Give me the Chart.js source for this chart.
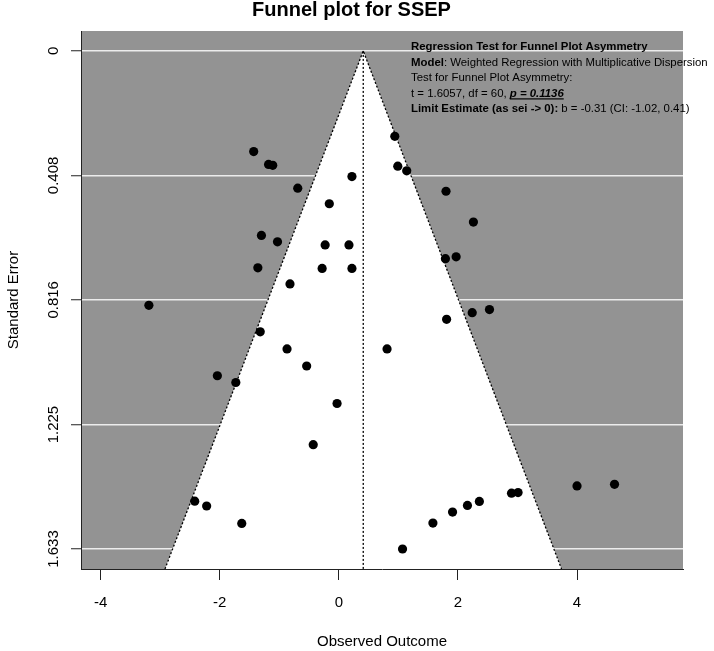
<!DOCTYPE html>
<html><head><meta charset="utf-8">
<script src="https://cdn.jsdelivr.net/npm/chart.js@4.4.1/dist/chart.umd.min.js"></script>
<style>html,body{margin:0;padding:0;background:#fff;}canvas{display:block;}</style>
</head><body>
<canvas id="c" width="714" height="651"></canvas>
<script>
// ---- data ----
const chartTitle = "Funnel plot for SSEP";
const xAxisTitle = "Observed Outcome";
const yAxisTitle = "Standard Error";
const xTickValues = [-4, -2, 0, 2, 4];
const yTickValues = [0, 0.408, 0.816, 1.225, 1.633];
const yTickLabels = ["0", "0.408", "0.816", "1.225", "1.633"];
const xRange = [-4.33, 5.78];
const seRange = [-0.0653, 1.6985];
const estimate = 0.41;
const funnelX = [-2.92, 0.41, 3.74];
const funnelSE = [1.6985, 0, 1.6985];
const observedOutcome = [
  -1.43, -1.18, -1.11, 0.22, -0.69, -0.16, -1.30, -1.03, -0.23, 0.17,
  -1.36, -0.28, 0.22, -0.82, -3.19, 0.94, 0.99, 1.14, 1.80, 2.26,
  1.79, 1.97, 2.24, 2.53, 1.81, -1.32, -0.87, 0.81, -0.54, -2.04,
  -1.73, -0.03, -0.43, -2.42, -2.22, -1.63, 4.00, 4.63, 2.90, 3.01,
  2.36, 2.16, 1.91, 1.58, 1.07
];
const standardError = [
  0.330, 0.372, 0.375, 0.412, 0.450, 0.501, 0.605, 0.626, 0.636, 0.636,
  0.711, 0.713, 0.713, 0.764, 0.834, 0.280, 0.378, 0.393, 0.460, 0.561,
  0.681, 0.675, 0.858, 0.848, 0.880, 0.921, 0.977, 0.977, 1.033, 1.065,
  1.087, 1.156, 1.291, 1.476, 1.492, 1.549, 1.426, 1.421, 1.450, 1.448,
  1.477, 1.490, 1.512, 1.548, 1.633
];
const annotationLines = [
  [{t: "Regression Test for Funnel Plot Asymmetry", b: true}],
  [{t: "Model", b: true}, {t: ": Weighted Regression with Multiplicative Dispersion"}],
  [{t: "Test for Funnel Plot Asymmetry:"}],
  [{t: "t = 1.6057, df = 60, "}, {t: "p = 0.1136", b: true, i: true, u: true}],
  [{t: "Limit Estimate (as sei -> 0):", b: true}, {t: " b = -0.31 (CI: -1.02, 0.41)"}]
];

// ---- helpers ----
const FONT = '"Liberation Sans", Arial, Helvetica, sans-serif';
const points = observedOutcome.map((x, k) => ({x: x, y: standardError[k]}));
const funnel = funnelX.map((x, k) => ({x: x, y: funnelSE[k]}));
const centerLine = [{x: estimate, y: 0}, {x: estimate, y: seRange[1]}];

const decor = {
  id: 'decor',
  beforeDraw(chart) {
    const {ctx, chartArea: a} = chart;
    ctx.save();
    ctx.fillStyle = '#939393';
    ctx.fillRect(a.left, a.top, a.right - a.left, a.bottom - a.top);
    ctx.restore();
  },
  afterDraw(chart) {
    const {ctx} = chart;
    const ys = chart.scales.y;
    ctx.save();
    ctx.fillStyle = '#000';
    // title
    ctx.font = 'bold 20px ' + FONT;
    ctx.textAlign = 'center';
    ctx.textBaseline = 'middle';
    ctx.fillText(chartTitle, 351.5, 10.5);
    // y tick labels (rotated)
    ctx.font = '15px ' + FONT;
    yTickValues.forEach((v, k) => {
      const py = ys.getPixelForValue(v);
      ctx.save();
      ctx.translate(54, py);
      ctx.rotate(-Math.PI / 2);
      ctx.textAlign = 'center';
      ctx.textBaseline = 'middle';
      ctx.fillText(yTickLabels[k], 0, 0);
      ctx.restore();
    });
    // annotation block
    ctx.textAlign = 'left';
    ctx.textBaseline = 'alphabetic';
    const x0 = 411, y0 = 50, dy = 15.6;
    annotationLines.forEach((segs, r) => {
      let x = x0;
      const y = y0 + r * dy;
      segs.forEach(s => {
        ctx.font = (s.i ? 'italic ' : '') + (s.b ? 'bold ' : '') + '11.4px ' + FONT;
        ctx.fillText(s.t, x, y);
        const w = ctx.measureText(s.t).width;
        if (s.u) {
          ctx.fillRect(x, y + 1.5, w, 1.2);
        }
        x += w;
      });
    });
    ctx.restore();
  }
};

new Chart(document.getElementById('c'), {
  type: 'scatter',
  data: {
    datasets: [
      {
        label: 'studies', data: points, order: 0,
        pointRadius: 4.6, pointHoverRadius: 4.6,
        backgroundColor: '#000', borderWidth: 0, showLine: false
      },
      {
        label: 'estimate', data: centerLine, order: 1, showLine: true,
        borderColor: '#000', borderWidth: 1.3, borderDash: [2, 2],
        pointRadius: 0, fill: false
      },
      {
        label: 'funnel', data: funnel, order: 2, showLine: true,
        borderColor: '#000', borderWidth: 1.3, borderDash: [2, 2],
        backgroundColor: '#ffffff', pointRadius: 0, tension: 0,
        fill: {value: seRange[1]}
      }
    ]
  },
  options: {
    responsive: false,
    animation: false,
    devicePixelRatio: 1,
    layout: {padding: {left: 0, right: 31, top: 31, bottom: 0}},
    plugins: {legend: {display: false}, tooltip: {enabled: false}, title: {display: false}},
    scales: {
      x: {
        type: 'linear', min: xRange[0], max: xRange[1],
        afterBuildTicks: s => { s.ticks = xTickValues.map(v => ({value: v})); },
        afterFit: s => { s.height = 82; },
        grid: {drawOnChartArea: false, tickLength: 11, tickColor: '#222', tickWidth: 1, z: 1},
        border: {display: true, color: '#222', width: 1, z: 1},
        ticks: {color: '#000', font: {family: FONT, size: 15}, padding: 14, maxRotation: 0, autoSkip: false},
        title: {display: true, text: xAxisTitle, color: '#000', font: {family: FONT, size: 15}, padding: {top: 0, bottom: 0}}
      },
      y: {
        type: 'linear', reverse: true, min: seRange[0], max: seRange[1],
        afterBuildTicks: s => { s.ticks = yTickValues.map(v => ({value: v})); },
        afterFit: s => { s.width = 81; },
        grid: {color: '#ececec', lineWidth: 1.5, tickLength: 10, tickColor: '#222', tickWidth: 1},
        border: {display: true, color: '#222', width: 1, z: 1},
        ticks: {display: false},
        title: {display: true, text: yAxisTitle, color: '#000', font: {family: FONT, size: 15}, padding: {top: 5, bottom: 0}}
      }
    }
  },
  plugins: [decor]
});
</script>
</body></html>
